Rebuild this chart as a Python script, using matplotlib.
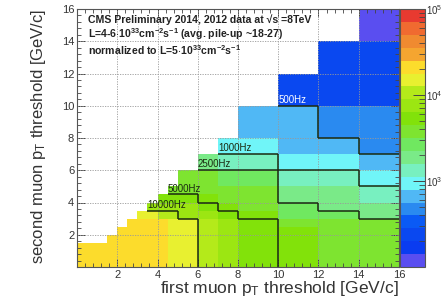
import numpy as np
import matplotlib
matplotlib.use('Agg')
import matplotlib.pyplot as plt
from matplotlib.colors import ListedColormap, LogNorm
from matplotlib.collections import LineCollection
from matplotlib.ticker import MultipleLocator

plt.rcParams['font.family'] = ['Liberation Sans', 'DejaVu Sans']
plt.rcParams['mathtext.default'] = 'regular'

# L1 muon pT threshold bin edges [GeV/c] (same for both axes)
pt_edges = [0, 1.5, 2, 2.5, 3, 3.5, 4, 4.5, 5, 6, 7, 8, 10, 12, 14, 16]

# rate [Hz] per first-muon bin, from lowest second-muon bin up to the diagonal
rate_cols = [
    [22400],
    [21000, 20900],
    [20900, 20900, 20400],
    [20900, 20900, 20400, 19000],
    [20400, 20400, 20000, 19500, 15000],
    [20000, 20000, 19500, 19000, 12600, 8900],
    [19500, 19500, 19000, 18000, 11200, 8300, 6300],
    [14100, 14100, 14100, 13500, 10500, 7900, 6300, 4200],
    [13200, 13200, 13200, 12600, 8300, 7100, 5600, 4000, 3200],
    [9500, 9300, 9300, 9000, 6600, 5600, 4500, 3500, 3200, 2000],
    [7900, 7900, 7900, 7600, 5600, 4500, 3500, 3500, 2800, 1400, 930],
    [6000, 6000, 6000, 5800, 4500, 4200, 3500, 3500, 2600, 1250, 930, 710],
    [4500, 4500, 4500, 4400, 2800, 2800, 1900, 1900, 1300, 930, 710, 710, 280],
    [4000, 4000, 4000, 3900, 2800, 2100, 1600, 1600, 1300, 930, 660, 420, 250, 220],
    [3500, 3500, 3500, 3400, 2200, 2000, 1300, 1250, 930, 660, 450, 450, 220, 220, 110],
]

contour_levels = [10000, 5000, 2500, 1000, 500]
contour_names = ['10000Hz', '5000Hz', '2500Hz', '1000Hz', '500Hz']

# ROOT-like rainbow palette, 20 levels from 1e2 to 1e5
palette = ['#5a4ef0', '#0a3cf0', '#0a48f0', '#0a5af5', '#2a8af0',
           '#50b8f5', '#70f5f8', '#78f0c0', '#7aea88', '#70e860',
           '#7ee430', '#82e20a', '#9ce612', '#b4ea1a', '#e8f030',
           '#fcdc2c', '#f5a530', '#f08a30', '#f06a30', '#e83a30']

n = len(pt_edges) - 1
Z = np.full((n, n), np.nan)
for j, col in enumerate(rate_cols):
    Z[:len(col), j] = col

W, H = 443, 301
fig = plt.figure(figsize=(W / 100, H / 100), dpi=100)
ax = fig.add_axes([77 / W, 34 / H, 322 / W, 258 / H])
cax = fig.add_axes([400 / W, 34 / H, 25 / W, 258 / H])

cmap = ListedColormap(palette)
norm = LogNorm(vmin=1e2, vmax=1e5)
mesh = ax.pcolormesh(pt_edges, pt_edges, np.ma.masked_invalid(Z), cmap=cmap, norm=norm, zorder=1)

# grid
for v in range(2, 16, 2):
    ax.axvline(v, color='#999999', lw=0.6, ls=(0, (1.5, 1.5)), zorder=2)
    ax.axhline(v, color='#999999', lw=0.6, ls=(0, (1.5, 1.5)), zorder=2)

# iso-rate lines between cells on either side of each level
e = pt_edges
segs = []
for lev in contour_levels:
    for i in range(n):
        for j in range(n):
            if np.isnan(Z[i, j]):
                continue
            if j + 1 < n and not np.isnan(Z[i, j + 1]) and (Z[i, j] >= lev) != (Z[i, j + 1] >= lev):
                segs.append([(e[j + 1], e[i]), (e[j + 1], e[i + 1])])
            if i + 1 < n and not np.isnan(Z[i + 1, j]) and (Z[i, j] >= lev) != (Z[i + 1, j] >= lev):
                segs.append([(e[j], e[i + 1]), (e[j + 1], e[i + 1])])
ax.add_collection(LineCollection(segs, colors='#1a2a10', linewidths=1.1, zorder=3))

label_xy = [(3.5, 3.55), (4.5, 4.55), (6.0, 6.05), (7.0, 7.05), (10.0, 10.05)]
for (lx, ly), name in zip(label_xy, contour_names):
    c = 'white' if name == '500Hz' else '#1a2a10'
    ax.text(lx, ly, name, fontsize=7, color=c, ha='left', va='bottom', zorder=4)

ax.set_xlim(0, 16)
ax.set_ylim(0, 16)
ax.xaxis.set_minor_locator(MultipleLocator(0.4))
ax.yaxis.set_minor_locator(MultipleLocator(0.4))
ax.set_xticks([2, 4, 6, 8, 10, 12, 14, 16])
ax.set_yticks([2, 4, 6, 8, 10, 12, 14, 16])
ax.tick_params(which='both', direction='in', top=True, right=True, labelsize=8, colors='#444444', labelcolor='#333333')
ax.tick_params(which='major', length=6, width=0.7, pad=2)
ax.tick_params(which='minor', length=3, width=0.6)
for s in ax.spines.values():
    s.set_color('#555555')
    s.set_linewidth(0.8)

ax.set_xlabel('first muon p$_T$ threshold [GeV/c]', loc='right', fontsize=12.5, color='#333333', labelpad=-0.5)
ax.set_ylabel('second muon p$_T$ threshold [GeV/c]', loc='top', fontsize=12, color='#333333', labelpad=10)

info = ['CMS Preliminary 2014, 2012 data at \u221as =8TeV',
        'L=4-6$\\cdot$10$^{33}$cm$^{-2}$s$^{-1}$ (avg. pile-up ~18-27)',
        'normalized to L=5$\\cdot$10$^{33}$cm$^{-2}$s$^{-1}$']
for t, yp in zip(info, [20, 34, 50]):
    fig.text(88 / W, 1 - yp / H, t, fontsize=7.6, fontweight='bold', color='#222222', va='center', ha='left')

cb = fig.colorbar(mesh, cax=cax)
cb.outline.set_edgecolor('#555555')
cb.outline.set_linewidth(0.8)
cb.set_ticks([1e3, 1e4, 1e5])
cax.yaxis.set_ticks_position('right')
cax.tick_params(which='both', direction='in', colors='#444444', labelcolor='#333333', labelsize=7)
cax.tick_params(which='major', length=9, width=0.7, pad=1)
cax.tick_params(which='minor', length=4, width=0.6)

fig.savefig('out.png', dpi=100)
